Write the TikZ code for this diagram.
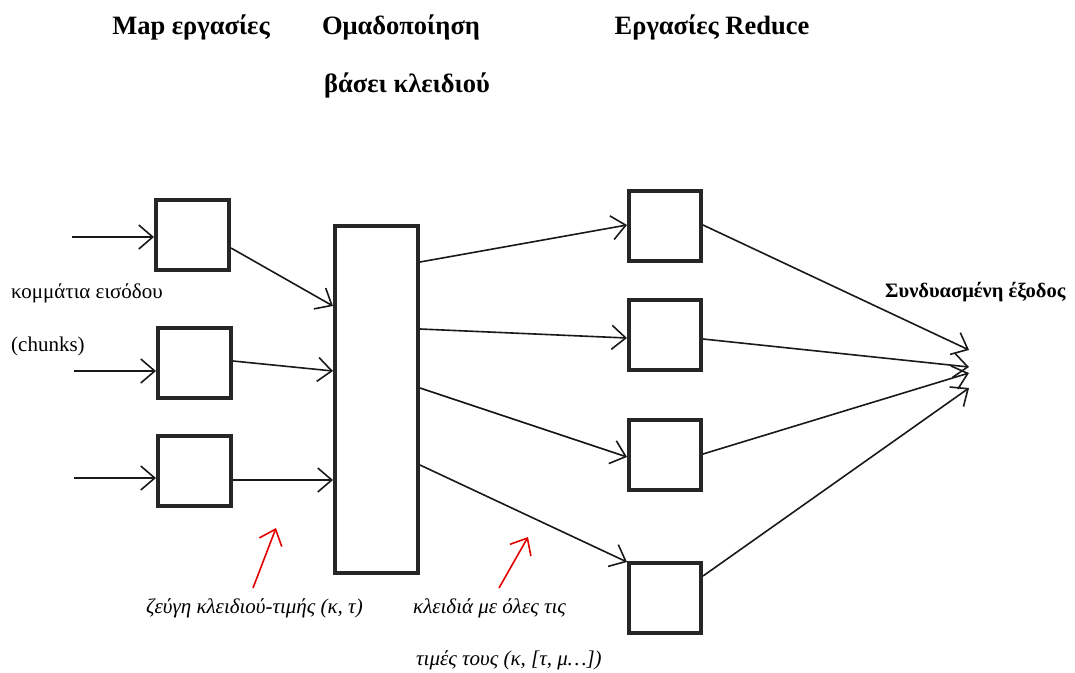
\documentclass[tikz,border=0pt]{standalone}
\usepackage{fontspec}
\setmainfont{Liberation Serif}
\usetikzlibrary{arrows.meta}
\begin{document}
\begin{tikzpicture}[x=1pt,y=-1pt,
  box/.style={draw=black!85, line width=4pt, minimum width=#1, inner sep=0pt, fill=white},
  box/.default=72pt,
  conn/.style={draw=black!90, line width=1.6pt, -{Straight Barb[length=14pt,width=24pt,line width=1.6pt]}},
  note/.style={draw=red!90!black, line width=1.6pt, -{Straight Barb[length=14pt,width=24pt,line width=1.6pt]}},
  title/.style={font=\bfseries\fontsize{26.5}{30}\selectfont},
  label/.style={font=\fontsize{21}{24}\selectfont, anchor=west, inner sep=0pt},
  ilabel/.style={font=\itshape\fontsize{21}{24}\selectfont, anchor=west, inner sep=0pt}]
\useasboundingbox (0,0) rectangle (1075,672);

% column titles
\node[title] (t1) at (191,27) {Map εργασίες};
\node[title] (t2) at (401,27) {Ομαδοποίηση};
\node[title] (t3) at (407,85) {βάσει κλειδιού};
\node[title] (t4) at (712,27) {Εργασίες Reduce};

% map tasks
\node[box=73pt, minimum height=70pt] (m1) at (192.5,235) {};
\node[box=73pt, minimum height=70pt] (m2) at (194.5,363) {};
\node[box=73pt, minimum height=70pt] (m3) at (194.5,471) {};

% grouping by key
\node[box=83pt, minimum height=347pt] (g) at (376.5,399.5) {};

% reduce tasks
\node[box=72pt, minimum height=70pt] (r1) at (665,226) {};
\node[box=72pt, minimum height=70pt] (r2) at (665,335) {};
\node[box=72pt, minimum height=70pt] (r3) at (665,455) {};
\node[box=72pt, minimum height=70pt] (r4) at (665,598) {};

% input chunks
\coordinate (in1) at (72,237);
\coordinate (in2) at (74,371);
\coordinate (in3) at (74,478);
\draw[conn] (in1) -- ([yshift=-2pt]m1.west);
\draw[conn] (in2) -- ([yshift=-8pt]m2.west);
\draw[conn] (in3) -- ([yshift=-7pt]m3.west);

% map -> grouping
\draw[conn] ([yshift=-13pt]m1.east) -- ([yshift=93.5pt]g.west);
\draw[conn] ([yshift=2pt]m2.east) -- ([yshift=28.5pt]g.west);
\draw[conn] ([yshift=-9pt]m3.east) -- ([yshift=-80.5pt]g.west);

% grouping -> reduce
\draw[conn] ([yshift=137.5pt]g.east) -- ([yshift=1pt]r1.west);
\draw[conn] ([yshift=70.5pt]g.east) -- ([yshift=-3pt]r2.west);
\draw[conn] ([yshift=11.5pt]g.east) -- ([yshift=-2pt]r3.west);
\draw[conn] ([yshift=-65.5pt]g.east) -- ([yshift=-1pt]r4.north west);

% reduce -> combined output
\coordinate (out) at (969,368);
\draw[conn] ([yshift=1pt]r1.east) -- ([yshift=18pt]out);
\draw[conn] ([yshift=-4pt]r2.east) -- ([yshift=1pt]out);
\draw[conn] ([yshift=1pt]r3.east) -- ([yshift=-5pt]out);
\draw[conn] ([yshift=22pt]r4.east) -- ([yshift=-20pt]out);

% side labels
\node[label] (l1) at (11,293) {κομμάτια εισόδου};
\node[label] (l2) at (11,346) {(chunks)};
\node[label, font=\bfseries\fontsize{20.5}{24}\selectfont] (l3) at (885,292) {Συνδυασμένη έξοδος};

% annotations
\node[ilabel] (a1) at (146,608) {ζεύγη κλειδιού-τιμής (κ, τ)};
\node[ilabel] (a2) at (413,608) {κλειδιά με όλες τις};
\node[ilabel] (a3) at (416,660) {τιμές τους (κ, [τ, μ…])};
\coordinate (p1) at (253,588);
\coordinate (q1) at (276,528);
\coordinate (p2) at (499,588);
\coordinate (q2) at (528,537);
\draw[note] (p1) -- (q1);
\draw[note] (p2) -- (q2);
\end{tikzpicture}
\end{document}
